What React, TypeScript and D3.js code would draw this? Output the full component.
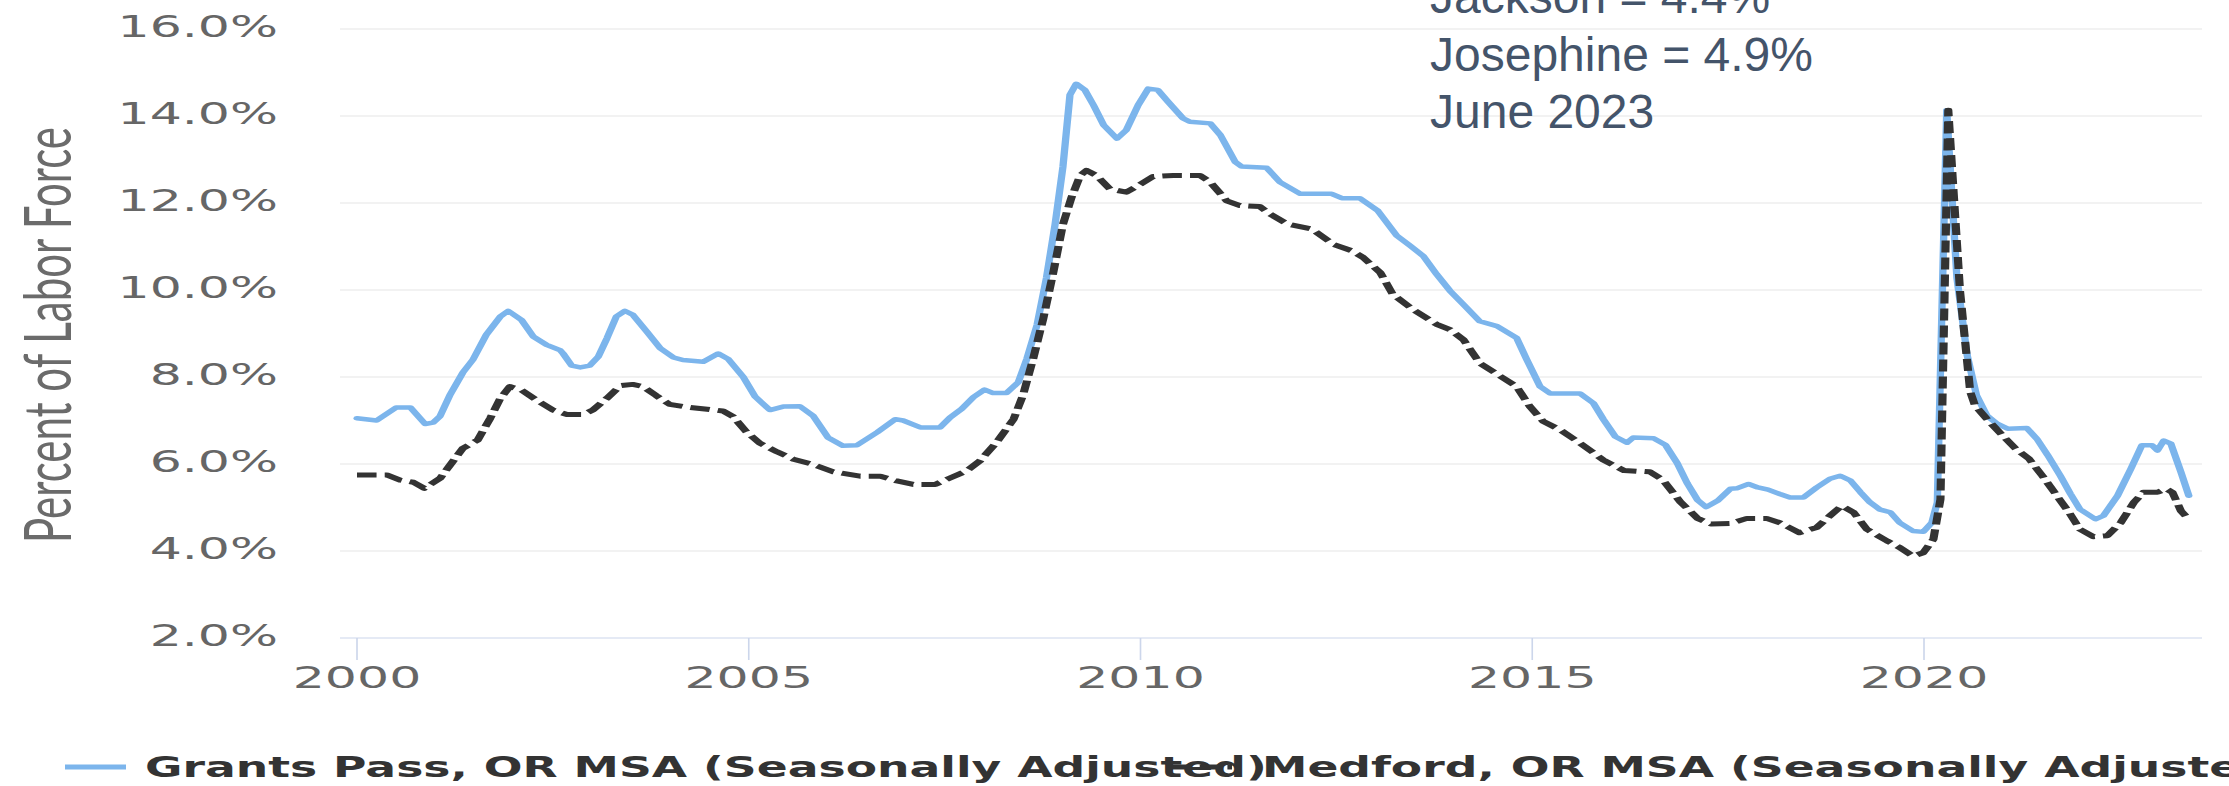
import React from 'react';
import * as d3 from 'd3';

// horizontal stretch of the original screenshot
const SX = 1.63;

const yTicks = [2, 4, 6, 8, 10, 12, 14, 16];
const xTicks = [2000, 2005, 2010, 2015, 2020];

const grantsPass: [number, number][] = [
  [2000.0, 7.05], [2000.25, 7.0], [2000.5, 7.3], [2000.68, 7.3], [2000.87, 6.92], [2000.97, 6.95],
  [2001.06, 7.1], [2001.19, 7.6], [2001.35, 8.1], [2001.48, 8.4], [2001.65, 8.97], [2001.83, 9.39],
  [2001.93, 9.52], [2002.1, 9.31], [2002.25, 8.93], [2002.42, 8.74], [2002.59, 8.62], [2002.63, 8.54],
  [2002.74, 8.26], [2002.85, 8.22], [2002.97, 8.26], [2003.08, 8.47], [2003.19, 8.89], [2003.31, 9.39],
  [2003.42, 9.52], [2003.52, 9.43], [2003.7, 9.04], [2003.87, 8.66], [2004.04, 8.45], [2004.16, 8.39],
  [2004.42, 8.35], [2004.61, 8.54], [2004.74, 8.41], [2004.93, 8.0], [2005.08, 7.55], [2005.27, 7.24],
  [2005.44, 7.32], [2005.65, 7.33], [2005.82, 7.11], [2006.01, 6.61], [2006.2, 6.42], [2006.38, 6.43],
  [2006.64, 6.73], [2006.87, 7.03], [2006.97, 7.0], [2007.19, 6.84], [2007.44, 6.84], [2007.57, 7.07],
  [2007.72, 7.27], [2007.87, 7.54], [2008.01, 7.71], [2008.12, 7.63], [2008.29, 7.63], [2008.44, 7.88],
  [2008.55, 8.42], [2008.68, 9.2], [2008.8, 10.28], [2008.91, 11.51], [2009.01, 12.83], [2009.1, 14.49],
  [2009.18, 14.74], [2009.29, 14.6], [2009.4, 14.25], [2009.53, 13.79], [2009.7, 13.48], [2009.82, 13.68],
  [2009.97, 14.25], [2010.1, 14.63], [2010.22, 14.6], [2010.35, 14.33], [2010.54, 13.95], [2010.63, 13.87],
  [2010.89, 13.83], [2011.02, 13.56], [2011.21, 12.94], [2011.29, 12.84], [2011.61, 12.81], [2011.78, 12.48],
  [2012.04, 12.21], [2012.44, 12.21], [2012.57, 12.11], [2012.8, 12.11], [2013.03, 11.82], [2013.27, 11.25],
  [2013.44, 11.02], [2013.61, 10.78], [2013.78, 10.36], [2013.95, 9.98], [2014.12, 9.67], [2014.33, 9.28],
  [2014.55, 9.17], [2014.8, 8.9], [2014.93, 8.4], [2015.1, 7.78], [2015.23, 7.62], [2015.61, 7.62],
  [2015.78, 7.4], [2015.91, 7.02], [2016.06, 6.63], [2016.21, 6.49], [2016.29, 6.61], [2016.55, 6.59],
  [2016.7, 6.44], [2016.85, 6.02], [2016.98, 5.55], [2017.11, 5.17], [2017.22, 5.01], [2017.37, 5.16],
  [2017.53, 5.43], [2017.61, 5.44], [2017.76, 5.54], [2017.88, 5.46], [2018.01, 5.41], [2018.16, 5.31],
  [2018.29, 5.23], [2018.46, 5.23], [2018.63, 5.46], [2018.8, 5.66], [2018.93, 5.73], [2019.06, 5.62],
  [2019.19, 5.35], [2019.31, 5.12], [2019.44, 4.95], [2019.57, 4.89], [2019.69, 4.65], [2019.86, 4.46],
  [2019.99, 4.44], [2020.1, 4.65], [2020.17, 5.12], [2020.29, 14.13], [2020.42, 10.28], [2020.55, 8.51],
  [2020.67, 7.58], [2020.8, 7.12], [2020.93, 6.93], [2021.07, 6.81], [2021.31, 6.83], [2021.44, 6.58],
  [2021.58, 6.2], [2021.74, 5.73], [2021.87, 5.31], [2021.99, 4.96], [2022.19, 4.73], [2022.29, 4.81],
  [2022.47, 5.27], [2022.64, 5.89], [2022.78, 6.43], [2022.91, 6.43], [2022.98, 6.31], [2023.06, 6.54],
  [2023.15, 6.47], [2023.28, 5.81], [2023.38, 5.27],
];

const medford: [number, number][] = [
  [2000.0, 5.75], [2000.38, 5.75], [2000.55, 5.63], [2000.72, 5.58], [2000.86, 5.44], [2001.06, 5.67],
  [2001.19, 5.98], [2001.35, 6.36], [2001.54, 6.55], [2001.7, 7.05], [2001.83, 7.51], [2001.95, 7.78],
  [2002.1, 7.7], [2002.29, 7.47], [2002.5, 7.24], [2002.68, 7.14], [2002.89, 7.14], [2003.01, 7.24],
  [2003.19, 7.51], [2003.36, 7.8], [2003.52, 7.83], [2003.65, 7.78], [2003.82, 7.57], [2003.99, 7.37],
  [2004.25, 7.3], [2004.67, 7.22], [2004.8, 7.09], [2004.97, 6.74], [2005.14, 6.48], [2005.36, 6.28],
  [2005.57, 6.11], [2005.82, 5.99], [2006.08, 5.82], [2006.42, 5.72], [2006.68, 5.72], [2006.89, 5.61],
  [2007.1, 5.53], [2007.38, 5.53], [2007.57, 5.68], [2007.78, 5.84], [2007.95, 6.07], [2008.16, 6.49],
  [2008.38, 7.03], [2008.5, 7.58], [2008.63, 8.42], [2008.76, 9.35], [2008.89, 10.43], [2009.01, 11.51],
  [2009.12, 12.13], [2009.23, 12.63], [2009.31, 12.75], [2009.44, 12.63], [2009.61, 12.32], [2009.82, 12.25],
  [2009.97, 12.4], [2010.16, 12.61], [2010.42, 12.63], [2010.76, 12.63], [2010.89, 12.48], [2011.1, 12.05],
  [2011.27, 11.94], [2011.52, 11.92], [2011.65, 11.75], [2011.87, 11.52], [2012.19, 11.4], [2012.46, 11.05],
  [2012.7, 10.9], [2012.84, 10.75], [2013.06, 10.4], [2013.22, 9.9], [2013.48, 9.55], [2013.78, 9.21],
  [2013.95, 9.09], [2014.12, 8.86], [2014.33, 8.32], [2014.59, 8.02], [2014.8, 7.78], [2014.97, 7.32],
  [2015.14, 6.98], [2015.36, 6.78], [2015.61, 6.48], [2015.91, 6.09], [2016.17, 5.85], [2016.5, 5.82],
  [2016.67, 5.63], [2016.89, 5.13], [2017.11, 4.75], [2017.28, 4.62], [2017.53, 4.63], [2017.74, 4.75],
  [2017.99, 4.75], [2018.16, 4.65], [2018.41, 4.42], [2018.63, 4.54], [2018.8, 4.81], [2018.95, 5.04],
  [2019.1, 4.89], [2019.27, 4.5], [2019.53, 4.23], [2019.69, 4.08], [2019.86, 3.88], [2019.99, 3.96],
  [2020.12, 4.27], [2020.21, 5.19], [2020.31, 14.13], [2020.46, 9.97], [2020.59, 7.66], [2020.65, 7.35],
  [2020.8, 7.04], [2021.0, 6.66], [2021.17, 6.35], [2021.34, 6.12], [2021.51, 5.73], [2021.68, 5.31],
  [2021.85, 4.89], [2021.99, 4.5], [2022.16, 4.33], [2022.34, 4.35], [2022.51, 4.65], [2022.68, 5.12],
  [2022.8, 5.35], [2022.98, 5.35], [2023.09, 5.43], [2023.17, 5.35], [2023.28, 4.92], [2023.38, 4.73],
];

const annotation = ['Jackson = 4.4%', 'Josephine = 4.9%', 'June 2023'];
const legendNames = ['Grants Pass, OR MSA (Seasonally Adjusted)', 'Medford, OR MSA (Seasonally Adjusted)'];

const App = () => {
  const width = 2229;
  const height = 786;

  // inner (unstretched) coordinates, the group is scaled by SX horizontally
  const x = d3.scaleLinear().domain([2000, 2020]).range([357 / SX, 1924 / SX]);
  const y = d3.scaleLinear().domain([2, 16]).range([638, 29]);
  const gridLeft = 340 / SX;
  const gridRight = 2202 / SX;

  const line = d3.line<[number, number]>()
    .x(d => x(d[0]))
    .y(d => y(d[1]));

  const fmt = (v: number) => d3.format('.1f')(v) + '%';
  const tickFont = 'DejaVu Sans, Verdana, sans-serif';

  return (
    <div style={{ position: 'absolute', left: 0, top: 0 }}>
      <svg width={width} height={height} style={{ display: 'block', background: '#fff' }}>
        <g transform={`scale(${SX},1)`}>
          {yTicks.map(t => (
            <line key={t} x1={gridLeft} x2={gridRight} y1={y(t)} y2={y(t)}
              stroke={t === 2 ? '#ccd6eb' : '#e6e6e6'} strokeWidth={1.2} />
          ))}
          {xTicks.map(t => (
            <line key={t} x1={x(t)} x2={x(t)} y1={y(2)} y2={y(2) + 22} stroke="#ccd6eb" strokeWidth={1} />
          ))}
          {yTicks.map(t => (
            <text key={t} x={278 / SX} y={y(t) + 8} textAnchor="end" fontFamily={tickFont}
              fontSize={31} fill="#666">{fmt(t)}</text>
          ))}
          {xTicks.map(t => (
            <text key={t} x={x(t)} y={688} textAnchor="middle" fontFamily={tickFont}
              fontSize={31} fill="#666">{t}</text>
          ))}
          <text transform={`translate(${71 / SX},335) rotate(-90)`} textAnchor="middle"
            fontFamily="Lato, 'Open Sans', sans-serif" fontWeight={400} fontSize={40} fill="#6b6b6b"
            textLength={416} lengthAdjust="spacingAndGlyphs">Percent of Labor Force</text>

          <path d={line(grantsPass) ?? ''} fill="none" stroke="#7cb5ec" strokeWidth={4.5}
            strokeLinejoin="round" strokeLinecap="round" />
          <path d={line(medford) ?? ''} fill="none" stroke="#333" strokeWidth={5}
            strokeDasharray="12,5" strokeLinejoin="round" />

          <line x1={65 / SX} x2={126 / SX} y1={767} y2={767} stroke="#7cb5ec" strokeWidth={5} />
          <text x={145 / SX} y={777} fontFamily={tickFont} fontWeight="bold" fontSize={28}
            fill="#333">{legendNames[0]}</text>
          <line x1={1172 / SX} x2={1232 / SX} y1={767} y2={767} stroke="#333" strokeWidth={5}
            strokeDasharray="12,5" />
          <text x={1262 / SX} y={777} fontFamily={tickFont} fontWeight="bold" fontSize={28}
            fill="#333">{legendNames[1]}</text>
        </g>

        {annotation.map((s, i) => (
          <text key={s} x={1430} y={13 + i * 57.5} fontFamily="'Liberation Sans', Arial, sans-serif"
            fontSize={48} fill="#44546A">{s}</text>
        ))}
      </svg>
    </div>
  );
};

export default App;
